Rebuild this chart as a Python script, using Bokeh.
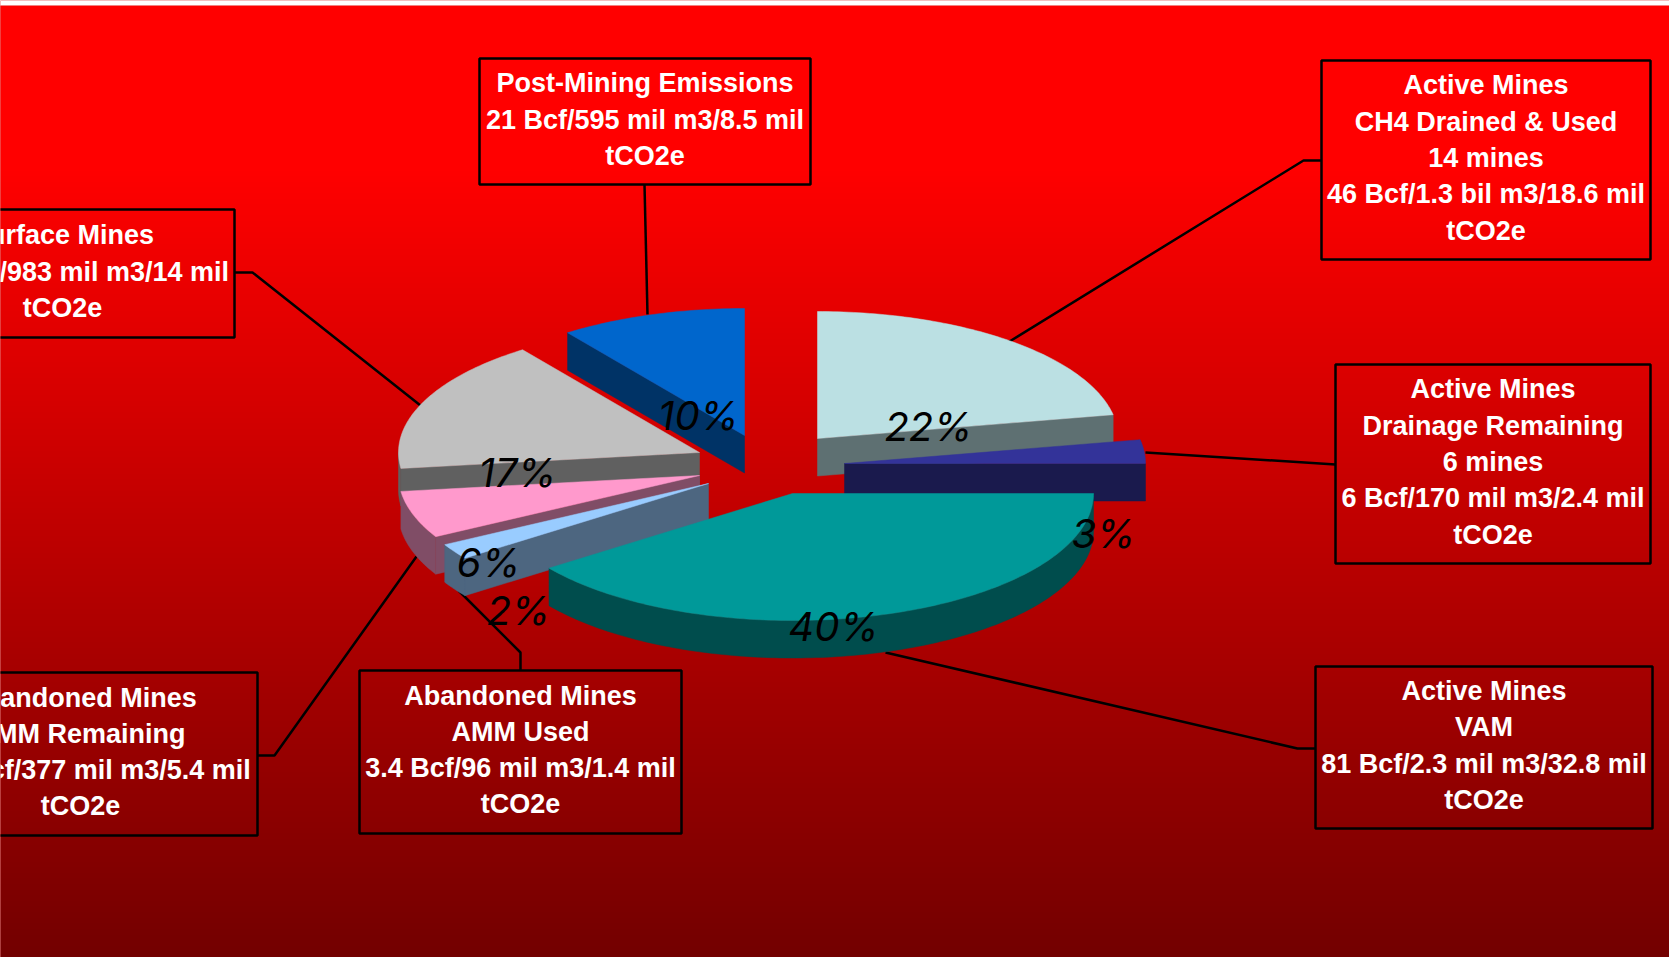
import numpy as np
from bokeh.core.properties import value
from bokeh.embed import file_html
from bokeh.models import Range1d
from bokeh.plotting import figure
from bokeh.resources import INLINE

# Share of each emission source, clockwise from twelve o'clock (percent)
sources = ["CH4 Drained & Used", "Drainage Remaining", "VAM", "AMM Used",
           "AMM Remaining", "Surface Mines", "Post-Mining"]
shares = [22, 3, 40, 2, 6, 17, 10]
share_labels = ["22%", "3%", "40%", "2%", "6%", "17%", "10%"]
top_colors = ["#BBE0E3", "#333399", "#009999", "#99CCFF", "#FF99CC", "#C0C0C0", "#0066CC"]
side_colors = ["#5E7072", "#1A1A4D", "#004D4D", "#4D6680", "#804D66", "#606060", "#003366"]

callout_lines = [
    ["Active Mines", "CH4 Drained & Used", "14 mines", "46 Bcf/1.3 bil m3/18.6 mil", "tCO2e"],
    ["Active Mines", "Drainage Remaining", "6 mines", "6 Bcf/170 mil m3/2.4 mil", "tCO2e"],
    ["Active Mines", "VAM", "81 Bcf/2.3 mil m3/32.8 mil", "tCO2e"],
    ["Abandoned Mines", "AMM Used", "3.4 Bcf/96 mil m3/1.4 mil", "tCO2e"],
    ["Abandoned Mines", "AMM Remaining", "13.3 Bcf/377 mil m3/5.4 mil", "tCO2e"],
    ["Surface Mines", "34.7 Bcf/983 mil m3/14 mil", "tCO2e"],
    ["Post-Mining Emissions", "21 Bcf/595 mil m3/8.5 mil", "tCO2e"],
]

# Page layout, in pixels from the top-left corner
WIDTH, HEIGHT = 1669, 957
STRIP = 5
RX, RY, DEPTH = 301, 127, 37.5
apex_x = [817, 844, 792, 708, 699, 699, 744]
apex_y = [438, 463, 493, 483, 475, 452, 435]
draw_order = [6, 5, 4, 3, 0, 1, 2]
box_left = [1321, 1335, 1315, 359, -97, -110, 479]
box_right = [1650, 1650, 1652, 681, 257, 234, 810]
box_top = [60, 364, 666, 670, 672, 209, 58]
box_bottom = [259, 563, 828, 833, 835, 337, 184]
leader_x = [[1321, 1303, 1009], [1335, 1145], [1315, 1297, 885],
            [520, 520, 458], [257, 274, 416], [234, 252, 420], [644, 647]]
leader_y = [[160, 160, 341], [464, 452], [748, 748, 652],
            [670, 652, 590], [755, 755, 556], [272, 272, 405], [184, 314]]
label_x = [928, 1103, 833, 518, 488, 517, 698]
label_y = [426, 533, 626, 610, 562, 472, 415]
LINE_STEP = 36.3
TEXT_LIFT = 2


def rim(cx, cy, a0, a1, drop=0.0):
    """Points on the pie's elliptical rim between two clockwise angles in degrees."""
    t = np.radians(np.linspace(a0, a1, max(2, int(abs(a1 - a0)) + 2)))
    return cx + RX * np.sin(t), cy - RY * np.cos(t) + drop


p = figure(width=WIDTH, height=HEIGHT, output_backend="svg", toolbar_location=None,
           x_range=Range1d(0, WIDTH), y_range=Range1d(HEIGHT, 0),
           x_axis_location=None, y_axis_location=None,
           min_border=0, outline_line_color=None, background_fill_color="#D00000",
           border_fill_color="#D00000")
p.grid.visible = False

# Backdrop: red fading downwards to a dark maroon.
# It runs past the page edges so that image smoothing stays out of sight.
rows = HEIGHT + 35
levels = np.clip(255 - (np.arange(rows) + STRIP - 170) * 0.178, 0, 255).astype(np.uint32)
backdrop = np.tile((0xFF000000 | levels).reshape(rows, 1), (1, 4))
p.image_rgba(image=[backdrop], x=-40, y=STRIP, dw=WIDTH + 80, dh=rows)
# Thin white strip along the top of the page
p.quad(left=-10, right=WIDTH + 10, top=-10, bottom=STRIP, fill_color="white", line_color=None)

# Callout boxes and their leader lines
for i in range(len(sources)):
    p.line(leader_x[i], leader_y[i], line_color="black", line_width=2.5)
    p.quad(left=box_left[i], right=box_right[i], top=box_top[i], bottom=box_bottom[i],
           fill_color=None, line_color="black", line_width=2.5)
    cx = (box_left[i] + box_right[i]) / 2
    cy = (box_top[i] + box_bottom[i]) / 2 - TEXT_LIFT
    n = len(callout_lines[i])
    ys = [cy + (k - (n - 1) / 2) * LINE_STEP for k in range(n)]
    p.text([cx] * n, ys, text=callout_lines[i], text_color="white",
           text_font=value("Liberation Sans"), text_font_style="bold",
           text_font_size="27px", text_align="center", text_baseline="middle")

# Exploded pie wedges, rear ones first
starts = np.concatenate([[0], np.cumsum(shares)[:-1]]) * 3.6
ends = np.cumsum(shares) * 3.6
for i in draw_order:
    cx, cy = apex_x[i], apex_y[i]
    a0, a1 = starts[i], ends[i]
    # Rim wall on the front half of the ellipse
    f0, f1 = max(a0, 90), min(a1, 270)
    if f1 > f0:
        xs, ys = rim(cx, cy, f0, f1)
        p.patch(np.r_[xs, xs[::-1]], np.r_[ys, ys[::-1] + DEPTH], fill_color=side_colors[i],
                line_color=side_colors[i], line_width=0.5)
    # Cut walls that face the viewer
    for angle, visible in ((a0, np.sin(np.radians(a0)) < -1e-6), (a1, np.sin(np.radians(a1)) > 1e-6)):
        if visible:
            ex, ey = rim(cx, cy, angle, angle)
            ex, ey = ex[0], ey[0]
            p.patch([cx, ex, ex, cx], [cy, ey, ey + DEPTH, cy + DEPTH], fill_color=side_colors[i],
                    line_color=side_colors[i], line_width=0.5)
    # Top face
    xs, ys = rim(cx, cy, a0, a1)
    p.patch(np.r_[cx, xs], np.r_[cy, ys], fill_color=top_colors[i],
            line_color=top_colors[i], line_width=0.5)

# Percentage labels
p.text(label_x, label_y, text=share_labels, text_color="black",
       text_font=value("Inter"), text_font_style="italic",
       text_font_size="40px", text_align="center", text_baseline="middle")

open("out.html", "w").write(file_html(p, INLINE))
